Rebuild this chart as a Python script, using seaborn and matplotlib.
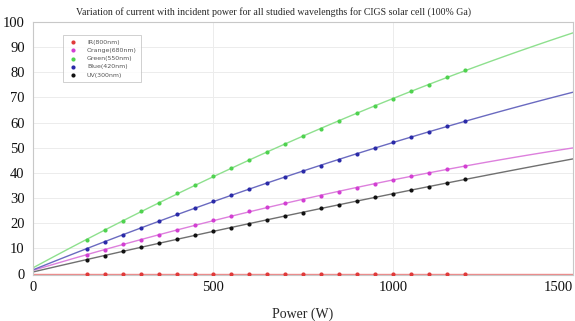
import numpy as np
import pandas as pd
import matplotlib
matplotlib.use("Agg")
import matplotlib.pyplot as plt
import seaborn as sns

power = [150, 200, 250, 300, 350, 400, 450, 500, 550, 600, 650, 700,
         750, 800, 850, 900, 950, 1000, 1050, 1100, 1150, 1200]
ir = [0.0] * 22
orange = [7.3, 9.5, 11.7, 13.5, 15.5, 17.3, 19.2, 21.2, 23.0, 24.7, 26.3,
          27.9, 29.3, 30.9, 32.5, 34.1, 35.6, 37.2, 38.6, 40.1, 41.4, 42.9]
green = [13.4, 17.2, 21.0, 24.7, 28.1, 31.9, 35.3, 38.6, 41.8, 45.2, 48.2,
         51.3, 54.5, 57.6, 60.6, 63.6, 66.5, 69.5, 72.5, 75.1, 77.9, 80.8]
blue = [9.8, 12.6, 15.5, 18.2, 20.8, 23.5, 26.0, 28.8, 31.2, 33.6, 36.0,
        38.4, 40.6, 42.9, 45.3, 47.4, 49.7, 52.1, 54.2, 56.4, 58.5, 60.6]
uv = [5.3, 7.1, 8.9, 10.6, 12.2, 13.8, 15.4, 16.8, 18.3, 19.8, 21.2,
      22.7, 24.2, 26.0, 27.3, 28.8, 30.3, 31.6, 33.1, 34.5, 36.0, 37.6]

labels = ["IR(800nm)", "Orange(680nm)", "Green(550nm)", "Blue(420nm)", "UV(300nm)"]
series = [ir, orange, green, blue, uv]
marker_colors = ["#e03a3a", "#d23fd2", "#4fd24f", "#2a2aa8", "#111111"]
line_colors = ["#ec8a8a", "#dd80dd", "#8ee08e", "#6a6ac0", "#707070"]

sns.set_theme(style="white")
plt.rcParams["font.family"] = ["Liberation Serif", "DejaVu Serif"]

fig = plt.figure(figsize=(5.75, 3.21), dpi=100)
ax = fig.add_axes([0.0574, 0.143, 0.939, 0.789])
ax.set_xlim(0, 1500)
ax.set_ylim(-0.6, 100)

for lab, vals, mc, lc in zip(labels, series, marker_colors, line_colors):
    df = pd.DataFrame({"Power": power, "I": vals})
    order = 1 if lab.startswith("IR") else 2
    sns.regplot(data=df, x="Power", y="I", ax=ax, order=order, ci=None,
                truncate=False, scatter=False,
                line_kws={"color": lc, "lw": 1.0, "zorder": 2})
    sns.scatterplot(data=df, x="Power", y="I", ax=ax, color=mc, s=9,
                    linewidth=0, label=lab, zorder=3)

ax.set_xlim(0, 1500)
ax.set_ylim(-0.6, 100)
ax.set_xticks([0, 500, 1000, 1500])
ax.set_yticks(range(0, 101, 10))
ax.grid(True, color="#ececec", lw=0.7)
for s in ax.spines.values():
    s.set_color("#c8c8c8")
    s.set_linewidth(0.8)
ax.tick_params(axis="both", labelsize=10.5, colors="#222222", length=3,
               direction="in", width=0.6)
ax.tick_params(axis="y", pad=6)
ax.tick_params(axis="x", pad=4)
for t in ax.get_xticklabels() + ax.get_yticklabels():
    t.set_color("#111111")
ax.get_xticklabels()[-1].set_horizontalalignment("right")
ax.set_xlabel("Power (W)", fontsize=10, labelpad=10)
ax.set_ylabel("")

fig.text(0.475, 0.962, "Variation of current with incident power for all studied wavelengths for CIGS solar cell (100% Ga)",
         ha="center", va="center", fontsize=7.1)

leg = ax.legend(loc="upper left", bbox_to_anchor=(0.050, 0.96),
                frameon=True, fancybox=False, edgecolor="#bbbbbb",
                markerscale=1.0, handletextpad=1.5, borderpad=0.7,
                labelspacing=0.45, handlelength=1.6,
                prop={"family": "DejaVu Sans", "size": 4.5})
leg.get_frame().set_linewidth(0.6)
for t in leg.get_texts():
    t.set_color("#555555")

fig.savefig("out.png", dpi=100)
